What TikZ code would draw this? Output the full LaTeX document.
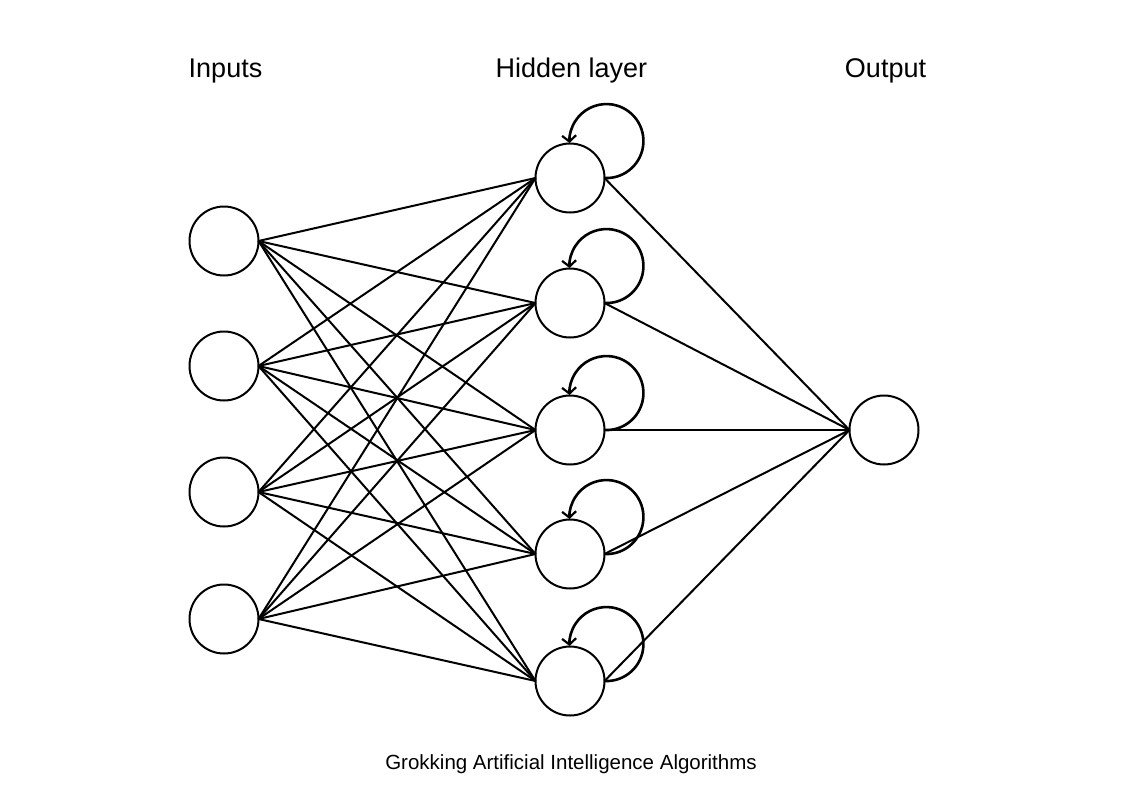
\documentclass[tikz,border=0pt]{standalone}
\usepackage{fontspec}
\setmainfont{Liberation Sans}
\usetikzlibrary{arrows.meta}
\begin{document}
\begin{tikzpicture}[x=1pt,y=-1pt,
  neuron/.style={circle,draw,line width=2pt,minimum size=69pt,inner sep=0pt,outer sep=0pt},
  edge/.style={line width=2pt},
  selfloop/.style={line width=2.6pt,-{Straight Barb[length=6pt,width=14pt,line width=2.2pt]}},
  title/.style={font=\fontsize{27}{30}\selectfont,anchor=base}]
\useasboundingbox (0,0) rectangle (1141,796);
\fill[white] (0,0) rectangle (1141,796);
% nodes
\foreach \i/\y in {1/241,2/366,3/492,4/619} \node[neuron] (i\i) at (224,\y) {};
\foreach \j/\y in {1/178,2/303,3/430,4/554,5/681} \node[neuron] (h\j) at (570,\y) {};
\node[neuron] (o) at (884,430) {};
% edges
\foreach \i in {1,...,4} \foreach \j in {1,...,5} \draw[edge] (i\i.east) -- (h\j.west);
\foreach \j in {1,...,5} \draw[edge] (h\j.east) -- (o.west);
% self loops
\foreach \j in {1,...,5} \draw[selfloop] (h\j.east) arc[start angle=93,end angle=-183,radius=37];
% labels
\node[title] (tin) at (225.5,77) {Inputs};
\node[title] (thid) at (571.5,77) {Hidden layer};
\node[title] (tout) at (885.5,77) {Output};
\node[font=\fontsize{20.5}{22}\selectfont,anchor=base] (cap) at (571,769) {Grokking Artificial Intelligence Algorithms};
\end{tikzpicture}
\end{document}
